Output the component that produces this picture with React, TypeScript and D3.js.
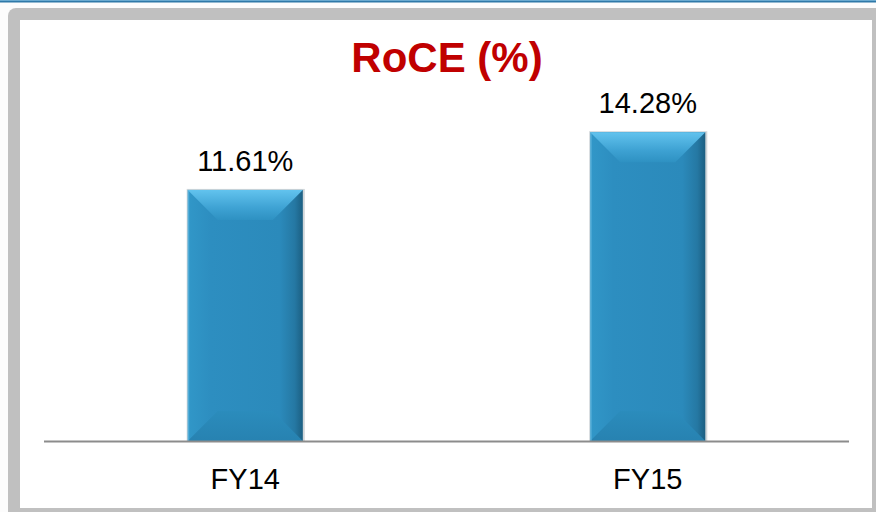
import React from 'react';
import * as d3 from 'd3';

const categories = ['FY14', 'FY15'];
const roceValues = [11.61, 14.28];
const valueLabels = ['11.61%', '14.28%'];
const chartTitle = 'RoCE (%)';

const width = 876;
const height = 512;
const plot = { left: 44, right: 849, top: 95, bottom: 441 };

function Bar({ x, y, w, h }: { x: number; y: number; w: number; h: number }) {
  const b = Math.min(30, w / 2, h / 2);
  const x1 = x + w;
  const y1 = y + h;
  return (
    <g>
      <rect x={x - 1} y={y - 1} width={w + 3} height={h + 1} fill="#9aa7ae" opacity={0.45} />
      <rect x={x} y={y} width={w} height={h} fill="url(#faceGrad)" />
      {/* bottom bevel */}
      <polygon points={`${x},${y1} ${x + b},${y1 - b} ${x1 - b},${y1 - b} ${x1},${y1}`} fill="url(#bottomBevel)" />
      {/* top bevel */}
      <polygon points={`${x},${y} ${x1},${y} ${x1 - b},${y + b} ${x + b},${y + b}`} fill="url(#topBevel)" />
      <rect x={x} y={y} width={1.5} height={h} fill="#6bbde2" opacity={0.6} />
    </g>
  );
}

export default function App() {
  const xScale = d3
    .scaleBand<string>()
    .domain(categories)
    .range([plot.left, plot.right])
    .paddingInner(0.714)
    .paddingOuter(0.357);
  const yScale = d3.scaleLinear().domain([0, 16]).range([plot.bottom, plot.top]);

  return (
    <div style={{ position: 'fixed', left: 0, top: 0 }}>
      <svg width={width} height={height} style={{ display: 'block', fontFamily: 'Arial, "Liberation Sans", sans-serif' }}>
        <defs>
          <linearGradient id="topBevel" x1="0" y1="0" x2="0" y2="1">
            <stop offset="0%" stopColor="#62c3ee" />
            <stop offset="60%" stopColor="#3ea2d3" />
            <stop offset="100%" stopColor="#2e91c2" />
          </linearGradient>
          <linearGradient id="bottomBevel" x1="0" y1="0" x2="0" y2="1">
            <stop offset="0%" stopColor="#2b8cbc" />
            <stop offset="100%" stopColor="#2782b1" />
          </linearGradient>
          <linearGradient id="faceGrad" x1="0" y1="0" x2="1" y2="0">
            <stop offset="0%" stopColor="#3197c8" />
            <stop offset="20%" stopColor="#2d8ec0" />
            <stop offset="80%" stopColor="#2b8abb" />
            <stop offset="93%" stopColor="#2578a3" />
            <stop offset="100%" stopColor="#1c5f82" />
          </linearGradient>
        </defs>
        <rect x={0} y={0} width={width} height={height} fill="#fcfcfc" />
        <rect x={0} y={0} width={width} height={1} fill="#6aaad0" />
        <rect x={0} y={1} width={width} height={1.5} fill="#2f79a8" />
        <rect x={8} y={8} width={width} height={height} rx={8} fill="#c0c0c0" />
        <rect x={20} y={20} width={852} height={488} fill="#ffffff" />

        <text x={447} y={72} textAnchor="middle" fontSize={42} fontWeight="bold" fill="#c00000">
          {chartTitle}
        </text>

        {categories.map((c, i) => {
          const x = xScale(c) as number;
          const y = yScale(roceValues[i]);
          return (
            <g key={c}>
              <Bar x={x} y={y} w={xScale.bandwidth()} h={plot.bottom - y} />
              <text x={x + xScale.bandwidth() / 2} y={y - 19} textAnchor="middle" fontSize={29} fill="#000">
                {valueLabels[i]}
              </text>
              <text x={x + xScale.bandwidth() / 2} y={489} textAnchor="middle" fontSize={29} fill="#000">
                {c}
              </text>
            </g>
          );
        })}

        <line x1={plot.left} x2={plot.right} y1={plot.bottom + 0.5} y2={plot.bottom + 0.5} stroke="#8c8c8c" strokeWidth={2} />
      </svg>
    </div>
  );
}
